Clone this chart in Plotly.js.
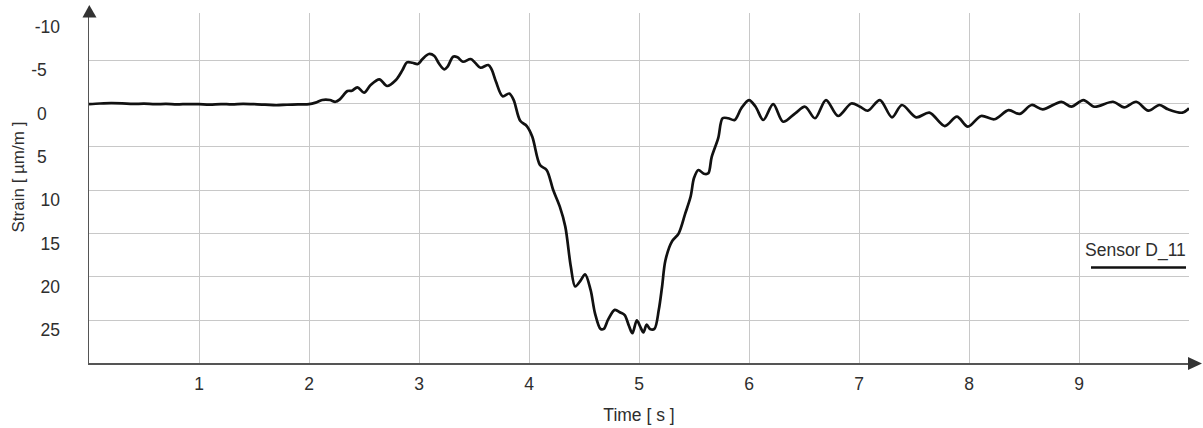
<!DOCTYPE html>
<html>
<head>
<meta charset="utf-8">
<script src="https://cdn.plot.ly/plotly-3.0.1.min.js"></script>
<style>
  html, body { margin: 0; padding: 0; background: #fff; }
  #chart { width: 1203px; height: 428px; }
</style>
</head>
<body>
<div id="chart"></div>
<script>
// ---- data ----
const timeS = [
  0, 0.1, 0.2, 0.3, 0.4, 0.5, 0.6, 0.7, 0.8, 0.9, 1.0, 1.1, 1.2, 1.3, 1.4, 1.5, 1.6, 1.7, 1.8, 1.9, 2.0,
  2.06, 2.12, 2.19, 2.24, 2.28, 2.35, 2.39, 2.44, 2.50, 2.56, 2.64, 2.71, 2.79, 2.85, 2.89, 2.94, 2.99,
  3.03, 3.09, 3.14, 3.18, 3.23, 3.26, 3.31, 3.35, 3.40, 3.47, 3.51, 3.56, 3.63, 3.66, 3.70, 3.76, 3.82,
  3.86, 3.92, 3.98, 4.03, 4.10, 4.16, 4.22, 4.28, 4.33, 4.38, 4.42, 4.47, 4.51, 4.56, 4.60, 4.65, 4.68,
  4.72, 4.78, 4.83, 4.87, 4.91, 4.94, 4.98, 5.01, 5.04, 5.07, 5.10, 5.14, 5.18, 5.21, 5.24, 5.30, 5.36,
  5.42, 5.47, 5.50, 5.54, 5.59, 5.63, 5.66, 5.72, 5.76, 5.81, 5.87, 5.93, 6.00, 6.06, 6.13, 6.22, 6.31,
  6.42, 6.51, 6.60, 6.70, 6.81, 6.93, 7.01, 7.08, 7.19, 7.30, 7.39, 7.52, 7.64, 7.78, 7.89, 7.99, 8.11,
  8.23, 8.36, 8.46, 8.57, 8.67, 8.84, 8.93, 9.04, 9.14, 9.31, 9.41, 9.52, 9.63, 9.73, 9.81, 9.94, 10.0
];
const strainD11 = [
  0.08, 0.0, -0.05, -0.02, 0.05, 0.02, 0.08, 0.05, 0.1, 0.06, 0.08, 0.12, 0.06, 0.1, 0.04, 0.08, 0.12, 0.2, 0.14, 0.1, 0.08,
  -0.1, -0.4, -0.4, -0.2, -0.48, -1.44, -1.48, -1.87, -1.25, -2.13, -2.79, -2.02, -2.71, -3.86, -4.75, -4.7, -4.56,
  -5.1, -5.71, -5.48, -4.64, -3.94, -4.25, -5.4, -5.33, -4.82, -5.13, -4.71, -4.13, -4.44, -3.94, -2.5, -0.83, -1.15,
  -0.42, 2.0, 2.6, 3.83, 7.1, 7.67, 9.98, 11.9, 14.2, 18.8, 21.1, 20.4, 19.7, 21.5, 24.2, 26.0, 26.0,
  24.9, 23.8, 24.1, 24.4, 25.7, 26.5, 25.0, 25.7, 26.4, 25.5, 26.0, 26.0, 23.8, 21.1, 18.1, 15.9, 15.0,
  12.7, 10.7, 8.6, 7.67, 8.1, 8.05, 6.2, 4.0, 1.7, 1.7, 1.9, 0.55, -0.4, 0.37, 1.9, 0.06, 2.1,
  1.13, 0.37, 1.7, -0.4, 1.44, 0, 0.37, 0.83, -0.4, 1.59, 0.17, 1.59, 1.06, 2.6, 1.52, 2.67, 1.44,
  1.82, 0.77, 1.2, 0.17, 0.67, -0.2, 0.37, -0.4, 0.37, -0.2, 0.44, -0.2, 0.83, 0.17, 0.67, 1.06, 0.55
];
const xTickVals = [1, 2, 3, 4, 5, 6, 7, 8, 9];
const xTickText = ['1', '2', '3', '4', '5', '6', '7', '8', '9'];
const yTickVals = [-10, -5, 0, 5, 10, 15, 20, 25];
const yTickText = ['-10', '-5', '0', '5', '10', '15', '20', '25'];
const yGridVals = [-5, 0, 5, 10, 15, 20, 25];
const seriesName = 'Sensor D_11';
const xTitle = 'Time [ s ]';
const yTitle = 'Strain [ \u00b5m/m ]';

// ---- layout ----
const W = 1203, H = 428;
const M = { l: 89, r: 14, t: 13, b: 65 };
const PW = W - M.l - M.r, PH = H - M.t - M.b;
const px = v => (v - M.l) / PW;          // pixel x -> paper
const py = v => (H - M.b - v) / PH;      // pixel y -> paper

const FONT = 'Liberation Sans, Arial, sans-serif';
const TXT = '#2e2e2e';
const AX = '#555555';
const GRID = '#c8c8c8';

// pad one-digit labels so they sit like the reference
const yTickPadded = yTickText.map(t => (t.replace('-', '').length < 2 ? t + '\u2007\u2009' : t));

const trace = {
  x: timeS, y: strainD11, type: 'scatter', mode: 'lines', name: seriesName,
  line: { color: '#111111', width: 2.7, shape: 'spline', smoothing: 0.9 },
  showlegend: false, hoverinfo: 'x+y'
};

const layout = {
  width: W, height: H,
  margin: M,
  paper_bgcolor: '#ffffff', plot_bgcolor: '#ffffff',
  font: { family: FONT, size: 17, color: TXT },
  showlegend: false,
  xaxis: {
    range: [0, 10], tickmode: 'array', tickvals: xTickVals, ticktext: xTickText,
    showgrid: true, gridcolor: GRID, gridwidth: 1, zeroline: false,
    showline: true, linecolor: AX, linewidth: 1.5, ticks: '',
    ticklabelstandoff: 4,
    tickfont: { family: FONT, size: 17.5, color: TXT },
    title: { text: xTitle, font: { family: FONT, size: 17.5, color: TXT }, standoff: 16 }
  },
  yaxis: {
    range: [29.93, -10.44], tickmode: 'array', tickvals: yTickVals, ticktext: yTickPadded,
    showgrid: false, zeroline: false,
    showline: true, linecolor: AX, linewidth: 1.5, ticks: '',
    ticklabelstandoff: 24, ticklabelshift: -10,
    tickfont: { family: FONT, size: 17.5, color: TXT }
  },
  yaxis2: {
    overlaying: 'y', range: [29.93, -10.44], tickmode: 'array', tickvals: yGridVals,
    showgrid: true, gridcolor: GRID, gridwidth: 1, zeroline: false,
    showticklabels: false, showline: false, ticks: ''
  },
  annotations: [
    {
      text: yTitle, textangle: -90, xref: 'paper', yref: 'paper',
      x: px(18), y: py(177.5), xanchor: 'center', yanchor: 'middle', showarrow: false,
      font: { family: FONT, size: 17, color: TXT }
    },
    {
      text: seriesName, xref: 'paper', yref: 'paper',
      x: px(1188), y: py(250.5), xanchor: 'right', yanchor: 'middle', showarrow: false,
      font: { family: FONT, size: 17.5, color: TXT }
    }
  ],
  shapes: [
    // legend line sample
    { type: 'line', xref: 'paper', yref: 'paper', x0: px(1091), x1: px(1186), y0: py(267.5), y1: py(267.5),
      line: { color: '#111111', width: 2.7 } },
    // y-axis arrow head
    { type: 'path', xref: 'paper', yref: 'paper',
      path: `M ${px(82.5)} ${py(17.5)} L ${px(89.3)} ${py(5)} L ${px(96.5)} ${py(17.5)} Z`,
      fillcolor: '#333333', line: { width: 0 } },
    // x-axis arrow head
    { type: 'path', xref: 'paper', yref: 'paper',
      path: `M ${px(1188)} ${py(357)} L ${px(1202)} ${py(363.5)} L ${px(1188)} ${py(370)} Z`,
      fillcolor: '#333333', line: { width: 0 } }
  ]
};

// invisible trace to activate yaxis2 gridlines
const gridTrace = { x: [0], y: [0], yaxis: 'y2', mode: 'markers', marker: { opacity: 0 }, hoverinfo: 'skip', showlegend: false };

Plotly.newPlot('chart', [gridTrace, trace], layout, { displayModeBar: false, staticPlot: true });
</script>
</body>
</html>
